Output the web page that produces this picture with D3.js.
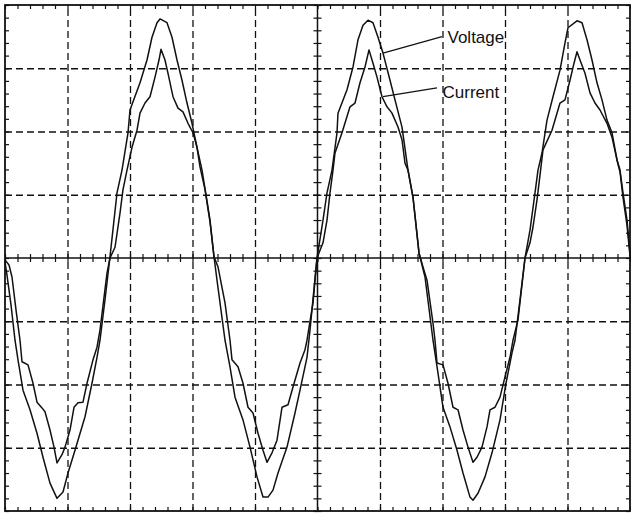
<!DOCTYPE html>
<html>
<head>
<meta charset="utf-8">
<script src="https://cdn.jsdelivr.net/npm/d3@7"></script>
<style>
  body { margin: 0; background: #fff; }
  svg { display: block; }
  .grid line { stroke: #111; stroke-width: 1.3; stroke-dasharray: 7,4; }
  .grid path { display: none; }
  .minor line { stroke: #111; stroke-width: 1.2; }
  .minor path { display: none; }
  .trace { fill: none; stroke: #111; stroke-width: 1.5; stroke-linejoin: round; }
  .label { font-family: "Liberation Sans", Arial, sans-serif; font-size: 17px; fill: #111; }
</style>
</head>
<body>
<script>
const width = 631;
const height = 514;

// time in ms (5 ms/div), amplitude in divisions
const timeDomain = [0, 50];
const ampDomain = [-4, 4];
const majorTimes = [5, 10, 15, 20, 30, 35, 40, 45];
const majorAmps = [-3, -2, -1, 1, 2, 3];

// Voltage trace [t, v]
const voltage = [
  [0.00,-0.06],[0.16,-0.27],[0.48,-0.74],[0.80,-1.30],[1.04,-1.61],[1.44,-2.09],[2.00,-2.40],
  [2.56,-2.77],[3.04,-3.15],[3.60,-3.56],[4.16,-3.80],[4.64,-3.70],[5.04,-3.40],[5.60,-3.04],
  [6.40,-2.51],[6.96,-1.98],[7.36,-1.57],[7.60,-1.30],[8.00,-0.66],[8.40,0.02],[8.96,1.03],
  [9.36,1.39],[9.84,1.98],[10.00,2.34],[10.80,2.77],[11.36,3.13],[11.76,3.49],[12.16,3.72],
  [12.40,3.78],[12.96,3.72],[13.36,3.49],[13.76,3.13],[14.16,2.81],[14.56,2.45],[14.96,2.13],
  [15.36,1.75],[15.76,1.39],[16.08,1.00],[16.40,0.60],[16.72,0.02],[16.96,-0.35],[17.60,-1.30],
  [18.00,-1.72],[18.40,-2.20],[19.04,-2.56],[19.60,-2.99],[20.16,-3.46],[20.64,-3.78],[21.04,-3.78],
  [21.44,-3.67],[21.84,-3.40],[22.56,-2.99],[23.20,-2.45],[23.60,-2.09],[24.16,-1.57],[24.40,-1.14],
  [24.96,0.00],[25.44,0.60],[25.76,1.03],[26.16,1.39],[26.56,1.98],[26.64,2.29],[27.36,2.66],
  [27.84,3.02],[28.24,3.45],[28.64,3.68],[29.04,3.76],[29.44,3.72],[29.84,3.49],[30.24,3.24],
  [30.80,2.81],[31.20,2.50],[31.76,2.07],[32.24,1.39],[32.64,0.96],[33.12,0.08],[33.60,-0.30],
  [34.24,-1.30],[34.64,-1.82],[35.04,-2.36],[35.60,-2.67],[36.16,-3.04],[36.64,-3.40],[37.20,-3.78],
  [37.44,-3.83],[37.84,-3.72],[38.40,-3.46],[38.96,-3.08],[39.60,-2.56],[40.08,-1.98],[40.56,-1.50],
  [40.80,-1.30],[41.20,-0.66],[41.60,0.00],[42.00,0.44],[42.40,1.03],[42.64,1.39],[42.96,1.66],
  [43.36,2.18],[43.84,2.55],[44.40,2.97],[44.80,3.40],[45.04,3.64],[45.76,3.75],[46.16,3.72],
  [46.56,3.45],[46.96,3.13],[47.36,2.77],[47.76,2.50],[48.16,2.18],[48.56,1.98],[48.96,1.55],
  [49.20,1.39],[49.44,1.03],[49.76,0.60],[50.00,0.08]
];

// Current trace [t, v]
const current = [
  [0.00,-0.03],[0.32,-0.11],[0.56,-0.30],[0.88,-0.82],[1.20,-1.30],[1.36,-1.64],[1.84,-1.69],
  [2.24,-1.98],[2.56,-2.28],[2.96,-2.37],[3.20,-2.43],[3.60,-2.72],[3.92,-2.99],[4.16,-3.24],
  [4.56,-3.11],[4.80,-2.99],[5.20,-2.72],[5.52,-2.36],[5.84,-2.29],[6.24,-2.28],[6.56,-1.98],
  [7.04,-1.61],[7.36,-1.41],[7.60,-1.14],[8.16,-0.24],[8.40,0.00],[8.80,0.17],[9.20,0.71],
  [9.44,1.08],[9.76,1.39],[10.16,1.75],[10.56,2.02],[10.80,2.29],[11.20,2.45],[11.60,2.55],
  [12.00,2.86],[12.32,3.13],[12.48,3.30],[12.80,3.13],[13.04,2.92],[13.44,2.55],[13.84,2.37],
  [14.24,2.31],[14.64,2.13],[15.04,1.98],[15.36,1.75],[15.60,1.44],[16.00,1.08],[16.40,0.57],
  [16.72,0.02],[17.04,-0.14],[17.60,-0.71],[18.00,-1.30],[18.16,-1.61],[18.64,-1.72],[19.04,-1.98],
  [19.44,-2.36],[19.84,-2.45],[20.24,-2.77],[20.64,-3.04],[20.96,-3.23],[21.36,-3.08],[21.76,-2.88],
  [22.16,-2.36],[22.64,-2.32],[23.04,-2.04],[23.60,-1.66],[24.00,-1.45],[24.16,-1.30],[24.64,-0.71],
  [24.96,0.00],[25.44,0.24],[25.76,0.60],[26.00,1.03],[26.24,1.39],[26.40,1.66],[26.96,1.98],
  [27.60,2.39],[28.00,2.45],[28.40,2.77],[28.80,3.02],[29.12,3.29],[29.44,3.08],[29.76,2.86],
  [30.16,2.55],[30.56,2.39],[30.96,2.29],[31.44,2.07],[31.76,1.87],[32.00,1.50],[32.24,1.39],
  [32.64,0.96],[33.12,0.08],[33.44,-0.14],[33.76,-0.35],[34.24,-1.03],[34.40,-1.30],[34.56,-1.66],
  [35.04,-1.69],[35.44,-1.98],[35.84,-2.36],[36.24,-2.40],[36.64,-2.72],[37.04,-2.99],[37.44,-3.23],
  [37.76,-3.15],[38.16,-2.99],[38.56,-2.67],[38.80,-2.40],[39.20,-2.36],[39.60,-2.20],[40.00,-1.88],
  [40.40,-1.57],[40.64,-1.30],[41.04,-0.98],[41.60,0.00],[42.00,0.24],[42.24,0.49],[42.56,0.92],
  [42.80,1.31],[43.04,1.71],[43.76,2.02],[44.40,2.45],[44.80,2.50],[45.20,2.81],[45.52,3.08],
  [45.76,3.26],[46.00,3.13],[46.40,2.92],[46.80,2.61],[47.20,2.45],[47.60,2.34],[48.16,2.13],
  [48.56,1.91],[48.96,1.55],[49.20,1.36],[49.44,0.96],[49.76,0.52],[50.00,0.03]
];

// labels with the point on the trace their leader line starts from
const labels = [
  { text: 'Voltage', at: [30.24, 3.24], tip: [34.96, 3.50], pos: [35.4, 3.40] },
  { text: 'Current', at: [30.24, 2.55], tip: [34.56, 2.69], pos: [35.0, 2.53] }
];

const svg = d3.select('body')
  .append('svg')
  .attr('width', width)
  .attr('height', height);

const x = d3.scaleLinear().domain(timeDomain).range([5, 630]);
const y = d3.scaleLinear().domain(ampDomain).range([511, 5]);

const yTop = y(ampDomain[1]);
const yBottom = y(ampDomain[0]);
const xLeft = x(timeDomain[0]);
const xRight = x(timeDomain[1]);

// dashed grid
svg.append('g')
  .attr('class', 'grid')
  .attr('transform', `translate(0, ${yBottom})`)
  .call(d3.axisBottom(x).tickValues(majorTimes).tickSize(-(yBottom - yTop)).tickFormat(''));

svg.append('g')
  .attr('class', 'grid')
  .attr('transform', `translate(${xLeft}, 0)`)
  .call(d3.axisLeft(y).tickValues(majorAmps).tickSize(-(xRight - xLeft)).tickFormat(''));

// minor ticks, 5 per division
const minorT = d3.range(timeDomain[0], timeDomain[1] + 0.001, 1);
const minorA = d3.range(ampDomain[0], ampDomain[1] + 0.001, 0.2);

function minorX(yPos, y1, y2) {
  svg.append('g')
    .attr('class', 'minor')
    .attr('transform', `translate(0, ${yPos})`)
    .call(d3.axisBottom(x).tickValues(minorT).tickFormat(''))
    .selectAll('.tick line')
    .attr('y1', y1)
    .attr('y2', y2);
}
function minorY(xPos, x1, x2) {
  svg.append('g')
    .attr('class', 'minor')
    .attr('transform', `translate(${xPos}, 0)`)
    .call(d3.axisLeft(y).tickValues(minorA).tickFormat(''))
    .selectAll('.tick line')
    .attr('x1', x1)
    .attr('x2', x2);
}

minorX(yTop, 0, 4);
minorX(yBottom, 0, -4);
minorX(y(0), -4, 4);
minorY(xLeft, 0, 4);
minorY(xRight, 0, -4);
minorY(x(25), -4, 4);

// solid centre cross and frame
svg.append('line')
  .attr('x1', xLeft).attr('x2', xRight)
  .attr('y1', y(0)).attr('y2', y(0))
  .attr('stroke', '#111').attr('stroke-width', 1.5);
svg.append('line')
  .attr('x1', x(25)).attr('x2', x(25))
  .attr('y1', yTop).attr('y2', yBottom)
  .attr('stroke', '#111').attr('stroke-width', 1.5);
svg.append('rect')
  .attr('x', xLeft).attr('y', yTop)
  .attr('width', xRight - xLeft).attr('height', yBottom - yTop)
  .attr('fill', 'none').attr('stroke', '#111').attr('stroke-width', 1.8);

// traces
const line = d3.line()
  .x(d => x(d[0]))
  .y(d => y(d[1]));

svg.append('path').datum(voltage).attr('class', 'trace').attr('d', line);
svg.append('path').datum(current).attr('class', 'trace').attr('d', line);

// labels
labels.forEach(l => {
  svg.append('line')
    .attr('x1', x(l.at[0])).attr('y1', y(l.at[1]))
    .attr('x2', x(l.tip[0])).attr('y2', y(l.tip[1]))
    .attr('stroke', '#111').attr('stroke-width', 1.2);
  svg.append('text')
    .attr('class', 'label')
    .attr('x', x(l.pos[0]))
    .attr('y', y(l.pos[1]))
    .text(l.text);
});
</script>
</body>
</html>
